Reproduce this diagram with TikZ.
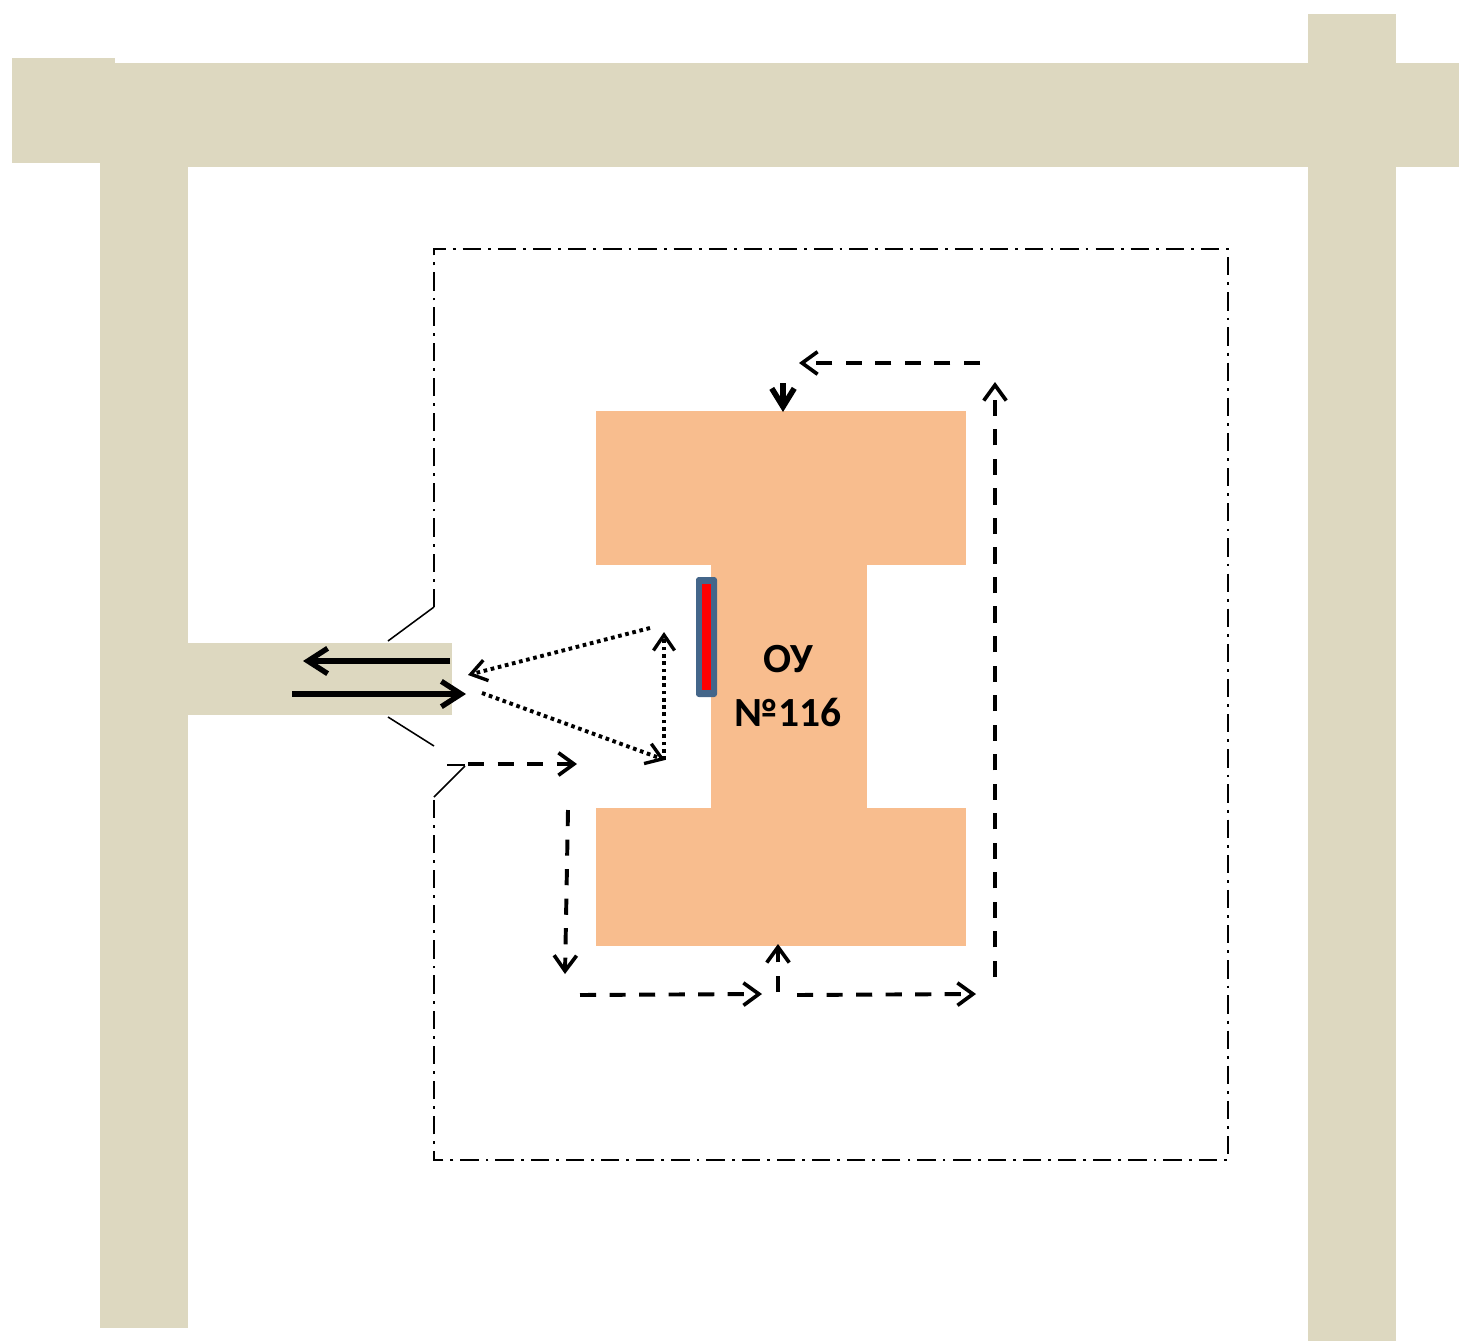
\documentclass[tikz,border=0pt]{standalone}
\usepackage{fontspec}
\setmainfont{Carlito}
\usetikzlibrary{arrows.meta}
\definecolor{roadcol}{HTML}{DDD8C0}
\definecolor{schoolcol}{HTML}{F8BD8E}
\definecolor{gatecol}{HTML}{44668A}
\tikzset{
  road/.style={fill=roadcol, draw=none},
  school/.style={fill=schoolcol, draw=none},
  fence/.style={line width=1.1pt, dash pattern=on 13pt off 5pt on 2pt off 5pt},
  gatepost/.style={line width=1.1pt},
  carway/.style={line width=4.4pt, -{Straight Barb[length=14pt,width=18pt,line width=3.8pt]}},
  walkway/.style={line width=2.8pt, dash pattern=on 11.5pt off 9.5pt, -{Straight Barb[length=11pt,width=16pt,line width=2.6pt]}},
  doorway/.style={line width=3.6pt, -{Straight Barb[length=13pt,width=16pt,line width=4pt]}},
  foottrack/.style={line width=2.8pt, dash pattern=on 2.6pt off 2.6pt, -{Straight Barb[length=11pt,width=15pt,line width=2.4pt]}},
}
\begin{document}
\begin{tikzpicture}[x=0.025cm, y=-0.025cm]
    \path[use as bounding box] (0, 0) rectangle (1459, 1341);

    % roads
    \fill[road] (12, 58) rectangle (115, 163);
    \fill[road] (100, 63) rectangle (1459, 167);
    \fill[road] (100, 160) rectangle (188, 1328);
    \fill[road] (1308, 14) rectangle (1396, 1341);
    \fill[road] (185, 643) rectangle (452, 715);

    % school building
    \fill[school] (596, 411) rectangle (966, 565);
    \fill[school] (711, 560) rectangle (867, 812);
    \fill[school] (596, 808) rectangle (966, 946);
    \node[font=\bfseries, align=center, text=black, inner sep=0pt, scale=2.95] at (788, 686) (school) {ОУ\\[1pt]№116};

    % entrance
    \fill[gatecol, rounded corners=2pt] (696, 577) rectangle (717, 697);
    \fill[red] (702, 584) rectangle (711, 690);

    % fence
    \coordinate (F1) at (434, 607);
    \coordinate (F2) at (434, 249);
    \coordinate (F3) at (1228, 249);
    \coordinate (F4) at (1228, 1160);
    \coordinate (F5) at (434, 1160);
    \coordinate (F6) at (434, 797);
    \draw[fence] (F1) -- (F2) -- (F3) -- (F4) -- (F5) -- (F6);
    \draw[gatepost] (F1) -- (388, 641);
    \draw[gatepost] (388, 717) -- (434, 746);
    \draw[gatepost] (F6) -- (465, 766);
    \draw[line width=2pt] (465, 765) -- (447, 765);

    % cars
    \coordinate (C1) at (450, 661);
    \coordinate (C2) at (303, 661);
    \coordinate (C3) at (292, 694);
    \coordinate (C4) at (466, 694);
    \draw[carway] (C1) -- (C2);
    \draw[carway] (C3) -- (C4);

    % dotted tracks
    \coordinate (D1) at (650, 628);
    \coordinate (D2) at (468, 675);
    \coordinate (D3) at (482, 693);
    \coordinate (D4) at (665, 760);
    \coordinate (D5) at (664, 760);
    \coordinate (D6) at (664, 632);
    \draw[foottrack] (D1) -- (D2);
    \draw[foottrack] (D3) -- (D4);
    \draw[foottrack] (D5) -- (D6);

    % dashed tracks
    \coordinate (W1) at (468, 764);
    \coordinate (W2) at (577, 764);
    \coordinate (W3) at (568, 810);
    \coordinate (W4) at (565, 974);
    \coordinate (W5) at (580, 995);
    \coordinate (W6) at (762, 994);
    \coordinate (W7) at (778, 992);
    \coordinate (W8) at (778, 944);
    \coordinate (W9) at (797, 995);
    \coordinate (W10) at (976, 994);
    \coordinate (W11) at (995, 977);
    \coordinate (W12) at (995, 382);
    \coordinate (W13) at (980, 363);
    \coordinate (W14) at (799, 363);
    \coordinate (W15) at (783, 383);
    \coordinate (W16) at (783, 412);
    \draw[walkway] (W1) -- (W2);
    \draw[walkway] (W3) -- (W4);
    \draw[walkway] (W5) -- (W6);
    \draw[walkway] (W7) -- (W8);
    \draw[walkway] (W9) -- (W10);
    \draw[walkway] (W11) -- (W12);
    \draw[walkway] (W13) -- (W14);
    \draw[doorway] (W15) -- (W16);
\end{tikzpicture}
\end{document}
